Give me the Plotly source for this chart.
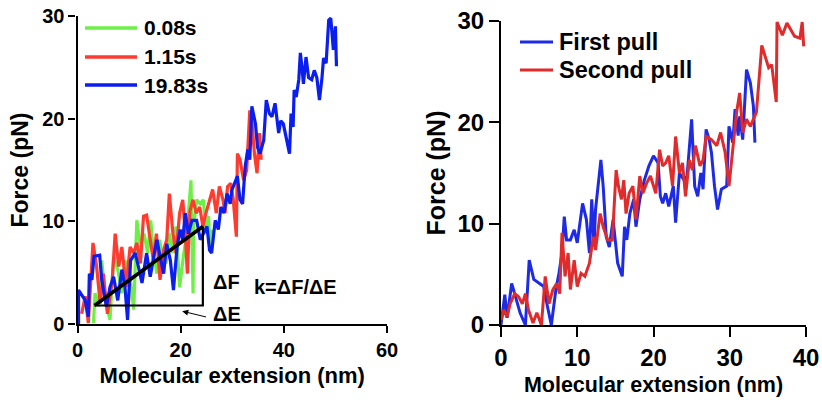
import plotly.graph_objects as go

# ---------------- data: left panel (force vs extension at three dwell times) ----------------
green_label = "0.08s"
green_x = [3.1, 3.4, 4.1, 4.7, 5.4, 6.3, 7.0, 7.8, 8.6, 9.2, 10.2, 10.9, 11.5, 12.2, 12.9,
           13.6, 14.2, 14.7, 15.4, 15.9, 16.5, 17.2, 17.8, 18.5, 19.1, 19.8, 20.6, 21.2,
           22.0, 22.4, 22.5, 23.1, 23.8, 24.4, 24.9, 25.4, 25.7, 26.0]
green_y = [0.1, 3.0, 1.7, 6.2, 2.3, 0.4, 6.6, 5.3, 3.0, 6.2, 4.6, 1.4, 10.1, 7.5, 8.8,
           6.9, 10.1, 6.9, 4.9, 8.2, 6.6, 5.9, 8.8, 6.9, 9.5, 3.6, 6.9, 8.8,
           14.0, 3.0, 9.5, 12.1, 11.7, 12.1, 8.8, 10.5, 7.5, 9.2]

red_label = "1.15s"
red_x = [0.8, 1.5, 2.1, 3.0, 3.7, 4.4, 5.0, 5.8, 6.7, 7.3, 8.0, 8.6, 9.4, 10.2, 10.9,
         11.5, 12.2, 12.8, 13.4, 14.1, 14.7, 15.3, 16.0, 16.7, 17.3, 17.8, 18.5, 19.1,
         19.8, 20.4, 20.9, 21.3, 21.8, 22.4, 23.0, 23.7, 24.3, 24.9, 25.6, 26.2, 26.9,
         27.5, 28.2, 28.6, 29.1, 29.7, 30.2, 30.8, 31.0, 31.5, 32.2, 32.8, 33.4, 33.8,
         34.3, 34.8, 35.3, 35.6]
red_y = [1.0, 2.7, 0.1, 7.9, 5.6, 2.0, 4.9, 1.0, 4.0, 8.8, 5.6, 7.5, 3.6, 7.5, 6.9,
         7.9, 5.9, 10.5, 10.6, 8.2, 6.2, 8.8, 4.3, 7.2, 8.2, 12.7, 8.8, 6.9,
         10.8, 12.1, 8.8, 4.9, 11.0, 12.1, 10.8, 11.4, 9.5, 10.8, 12.1, 13.1, 10.8,
         13.4, 12.1, 10.8, 13.4, 13.7, 12.1, 8.5, 16.6, 16.0, 14.0, 15.0, 20.8, 19.8,
         16.6, 14.7, 18.6, 16.0]

blue_label = "19.83s"
blue_x = [0.2, 0.2, 1.5, 2.1, 2.3, 2.8, 3.2, 4.3, 4.7, 5.6, 6.3, 7.0, 7.8, 8.6, 9.2,
          9.7, 10.3, 11.2, 11.8, 12.5, 13.4, 14.1, 14.9, 15.4, 16.0, 16.7, 17.3, 18.0,
          18.6, 19.3, 19.9, 20.4, 20.9, 21.5, 22.2, 23.1, 23.8, 24.4, 25.1, 25.6, 26.0,
          26.7, 27.3, 27.8, 28.4, 29.0, 29.6, 29.9, 30.6, 31.0, 31.5, 32.0, 32.5, 33.0,
          33.4, 33.8, 34.5, 34.9, 35.4, 36.1, 36.6, 37.2, 37.7, 38.3, 39.0, 39.4, 39.9,
          40.5, 41.1, 41.4, 41.8, 42.0, 42.4, 42.9, 43.2, 43.5, 43.8, 44.3, 44.8, 45.4,
          45.9, 46.4, 46.9, 47.4, 47.7, 48.2, 48.7, 49.1, 49.4, 49.6, 50.0, 50.2]
blue_y = [0.0, 3.3, 2.3, 0.7, 4.9, 4.3, 6.6, 6.7, 4.3, 1.7, 3.6, 4.6, 2.3, 5.3, 3.6,
          0.4, 6.2, 6.9, 5.6, 4.0, 6.9, 4.6, 6.9, 8.2, 6.6, 4.9, 7.8, 6.2,
          3.3, 7.5, 9.2, 8.2, 10.8, 8.8, 10.1, 10.1, 8.2, 8.8, 9.5, 7.2, 6.9,
          10.1, 9.2, 11.4, 10.8, 12.7, 11.7, 13.0, 14.0, 14.4, 12.1, 11.7, 15.3, 17.0,
          16.0, 21.2, 19.5, 17.2, 16.6, 17.9, 21.8, 20.5, 20.2, 21.5, 18.6, 19.8, 19.5,
          17.9, 16.6, 20.5, 19.2, 22.8, 22.1, 23.8, 26.4, 25.1, 23.4, 26.0, 24.0, 23.8,
          24.7, 24.0, 21.8, 24.0, 25.9, 25.4, 29.6, 29.8, 28.3, 26.7, 29.0, 25.1]

# stiffness construction: k = dF / dE
slope_x = [3.3, 24.3, 24.3, 3.3]
slope_y = [1.8, 9.5, 1.8, 1.8]

# ---------------- data: right panel (two consecutive pulls) ----------------
first_label = "First pull"
first_x = [0.0, 0.5, 0.8, 1.4, 1.9, 2.5, 3.2, 3.7, 4.3, 5.0, 5.6, 6.1, 6.6, 7.2, 7.6,
           8.0, 8.3, 8.6, 9.1, 9.6, 10.0, 10.7, 11.2, 11.6, 11.9, 12.2, 12.4, 13.1,
           13.4, 13.8, 14.2, 14.7, 15.3, 15.9, 16.2, 16.5, 16.9, 17.4, 17.7, 18.2,
           18.8, 19.4, 20.0, 20.6, 20.9, 21.2, 21.6, 22.0, 22.6, 22.9, 23.4, 24.0,
           24.4, 25.0, 25.4, 25.8, 26.2, 26.5, 26.9, 27.3, 27.6, 28.0, 28.4, 28.9,
           29.6, 29.9, 30.4, 30.7, 31.1, 31.3, 31.7, 32.2, 32.7, 33.1, 33.3]
first_y = [0.0, 3.0, 0.7, 4.1, 2.8, 1.2, 0.0, 6.4, 4.5, 4.1, 3.8, 1.8, 0.0, 3.5, 5.1,
           7.1, 10.7, 8.4, 8.4, 9.4, 8.1, 12.0, 10.4, 7.1, 12.4, 7.8, 11.4, 16.3,
           13.7, 8.7, 7.7, 10.4, 6.1, 4.8, 9.7, 8.4, 11.0, 12.4, 9.7, 12.4,
           14.3, 15.7, 16.7, 16.0, 12.7, 12.0, 13.0, 11.7, 13.7, 10.1, 15.0, 14.3,
           14.7, 20.3, 13.7, 12.7, 15.0, 13.4, 19.3, 18.3, 17.0, 13.7, 11.4, 13.4,
           13.7, 19.6, 18.0, 21.3, 18.7, 20.6, 18.3, 25.2, 23.9, 21.6, 18.0]

second_label = "Second pull"
second_x = [0.0, 0.35, 0.8, 1.2, 1.8, 2.3, 2.8, 3.2, 3.6, 4.2, 4.7, 5.3, 5.8, 6.3, 6.8,
            7.3, 7.7, 8.0, 8.4, 8.8, 9.1, 9.6, 10.0, 10.5, 11.0, 11.6, 12.1, 12.4,
            13.0, 13.4, 14.0, 14.6, 15.1, 15.4, 15.8, 16.1, 16.4, 16.8, 17.3, 17.7,
            18.2, 18.6, 19.1, 19.6, 20.3, 20.8, 21.2, 21.6, 22.0, 22.5, 22.9, 23.4,
            23.8, 24.2, 24.7, 25.1, 25.5, 26.1, 26.5, 26.9, 27.6, 28.3, 28.8, 29.4,
            29.9, 30.5, 30.9, 31.3, 31.7, 32.2, 32.7, 33.5, 34.2, 35.1, 35.5, 36.1,
            36.2, 36.9, 37.5, 38.5, 39.2, 39.5, 39.7]
second_y = [0.5, 1.5, 0.8, 2.1, 3.1, 2.8, 2.1, 3.1, 1.5, 0.2, 1.2, 0.0, 4.8, 2.1, 3.5,
            4.1, 3.1, 9.1, 4.8, 7.1, 3.5, 6.4, 3.8, 5.1, 4.8, 6.1, 8.7, 7.4,
            11.0, 9.7, 8.4, 8.4, 15.3, 13.7, 12.4, 14.3, 11.0, 13.0, 13.7, 10.4,
            14.7, 13.0, 14.0, 14.7, 13.0, 17.3, 15.7, 16.0, 16.7, 13.7, 18.6, 15.0,
            16.0, 12.7, 16.3, 15.3, 17.7, 15.7, 16.3, 18.6, 18.3, 17.7, 19.0, 17.0,
            13.7, 18.0, 21.0, 22.9, 19.0, 20.3, 19.6, 21.0, 27.6, 25.4, 25.7, 22.0,
            29.9, 28.6, 29.8, 28.5, 28.3, 29.9, 27.5]

# ---------------- styling ----------------
FONT = "Liberation Sans, Arial, Helvetica, sans-serif"
W, H = 822, 405

C_GREEN = "#6cf046"
C_RED_L = "#ff3a2e"
C_BLUE_L = "#0a1ef2"
C_BLUE_R = "#1e2be6"
C_RED_R = "#df2b2b"

fig = go.Figure()

def add_line(x, y, color, name, xa, ya, width=3.2):
    fig.add_trace(go.Scatter(x=x, y=y, mode="lines", name=name, showlegend=False,
                             line=dict(color=color, width=width, shape="linear"),
                             xaxis=xa, yaxis=ya, hoverinfo="x+y+name"))

add_line(green_x, green_y, C_GREEN, green_label, "x", "y")
add_line(red_x, red_y, C_RED_L, red_label, "x", "y")
add_line(blue_x, blue_y, C_BLUE_L, blue_label, "x", "y")

# slope triangle: thick hypotenuse, thinner legs
fig.add_trace(go.Scatter(x=slope_x[:2], y=slope_y[:2], mode="lines", showlegend=False,
                         line=dict(color="black", width=3.6), hoverinfo="skip"))
fig.add_trace(go.Scatter(x=slope_x[1:], y=slope_y[1:], mode="lines", showlegend=False,
                         line=dict(color="black", width=2.2), hoverinfo="skip"))

add_line(first_x, first_y, C_BLUE_R, first_label, "x2", "y2", width=3.0)
add_line(second_x, second_y, C_RED_R, second_label, "x2", "y2", width=3.0)

def axis_style(size):
    return dict(showgrid=False, zeroline=False, showline=True, linecolor="black",
                linewidth=2.2, ticks="outside", tickcolor="black", tickwidth=2.2,
                tickfont=dict(family=FONT, size=size, color="black", weight="bold"),
                mirror=False, fixedrange=True, automargin=False)

def title_font(size):
    return dict(family=FONT, size=size, color="black", weight="bold")

left_dom_x = [77.5 / W, 387 / W]
left_dom_y = [(H - 324) / H, (H - 16) / H]
right_dom_x = [501 / W, 806 / W]
right_dom_y = [(H - 325) / H, (H - 21) / H]

fig.update_layout(
    width=W, height=H,
    margin=dict(l=0, r=0, t=0, b=0, autoexpand=False),
    paper_bgcolor="white", plot_bgcolor="white",
    showlegend=False,
    xaxis=dict(domain=left_dom_x, range=[0, 60], tickvals=[0, 20, 40, 60], ticklen=7,
               anchor="y", **axis_style(20),
               title=dict(text="Molecular extension (nm)", standoff=8, font=title_font(22))),
    yaxis=dict(domain=left_dom_y, range=[0, 30], tickvals=[0, 10, 20, 30], ticklen=7,
               anchor="x", **axis_style(20),
               title=dict(text="Force (pN)", standoff=7, font=title_font(23))),
    xaxis2=dict(domain=right_dom_x, range=[0, 40], tickvals=[0, 10, 20, 30, 40], ticklen=10,
                anchor="y2", **axis_style(24),
                title=dict(text="Molecular extension (nm)", standoff=7, font=title_font(21.5))),
    yaxis2=dict(domain=right_dom_y, range=[0, 30], tickvals=[0, 10, 20, 30], ticklen=10,
                anchor="x2", **axis_style(24),
                title=dict(text="Force (pN)", standoff=5, font=title_font(25))),
)

# ---------------- legends ----------------
def legend_block(entries, x0, x1, y_rows, text_x, size, lw):
    for (label, color), yy in zip(entries, y_rows):
        fig.add_shape(type="line", xref="paper", yref="paper",
                      x0=x0 / W, x1=x1 / W, y0=1 - yy / H, y1=1 - yy / H,
                      line=dict(color=color, width=lw))
        fig.add_annotation(xref="paper", yref="paper", x=text_x / W, y=1 - yy / H,
                           xanchor="left", yanchor="middle", showarrow=False,
                           text=label, font=dict(family=FONT, size=size, color="black",
                                                 weight="bold"))

legend_block([(green_label, C_GREEN), (red_label, C_RED_L), (blue_label, C_BLUE_L)],
             85, 137, [28, 57, 85], 142, 21, 3.6)
legend_block([(first_label, C_BLUE_R), (second_label, C_RED_R)],
             520, 553, [42, 70], 557, 23.5, 3.0)

# ---------------- slope annotation ----------------
ANN_FONT = dict(family=FONT, size=20, color="black", weight="bold")
fig.add_annotation(x=25.9, y=4.1, xref="x", yref="y", text="ΔF", showarrow=False,
                   xanchor="left", yanchor="middle", font=ANN_FONT)
fig.add_annotation(x=25.9, y=1.0, xref="x", yref="y", text="ΔE", showarrow=False,
                   xanchor="left", yanchor="middle", font=ANN_FONT)
fig.add_annotation(x=33.9, y=3.6, xref="x", yref="y", text="k=ΔF/ΔE", showarrow=False,
                   xanchor="left", yanchor="middle", font=ANN_FONT)
fig.add_annotation(x=20.3, y=1.25, ax=25.2, ay=0.65, xref="x", yref="y",
                   axref="x", ayref="y", text="", showarrow=True,
                   arrowhead=2, arrowsize=1.2, arrowwidth=1, arrowcolor="black")

fig.write_html("out.html")
